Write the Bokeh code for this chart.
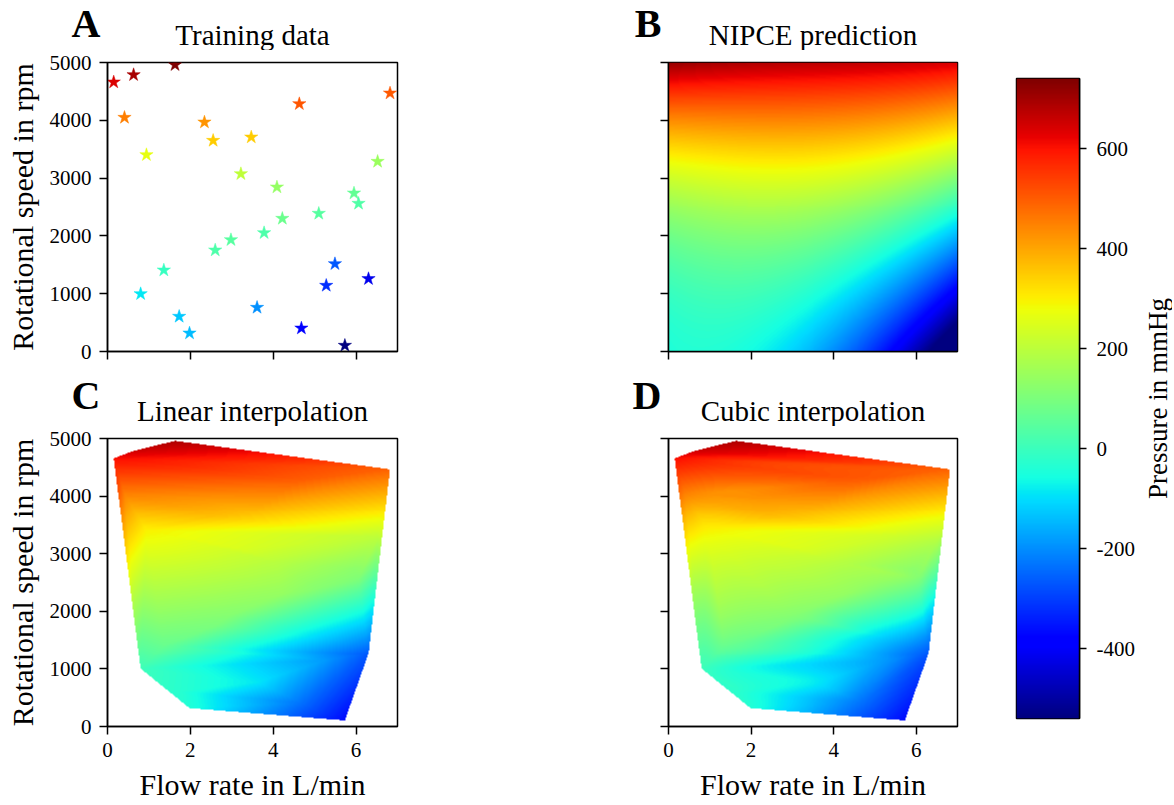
import itertools
import numpy as np
from bokeh.plotting import figure
from bokeh.layouts import row, column
from bokeh.core.properties import value
from bokeh.models import (LinearColorMapper, FixedTicker, Range1d,
                          ColumnDataSource, CustomJSTickFormatter)
from bokeh.embed import file_html
from bokeh.resources import INLINE

# ---------------- data ----------------
flow = [0.15, 0.63, 1.63, 0.41, 2.34, 4.63, 6.82, 2.55, 3.47, 0.94,
        3.22, 4.09, 6.52, 5.95, 6.06, 5.10, 4.22, 3.78, 2.98, 2.60,
        1.36, 0.80, 1.73, 1.98, 3.61, 5.49, 5.28, 4.68, 6.30, 5.73]
speed = [4660, 4787, 4960, 4048, 3967, 4285, 4469, 3650, 3708, 3403,
         3074, 2843, 3287, 2739, 2561, 2388, 2301, 2053, 1932, 1753,
         1407, 998, 606, 317, 761, 1517, 1142, 403, 1258, 104]
pressure = [607, 649, 690, 450, 425, 499, 492, 367, 367, 297,
            243, 193, 201, 127, 106, 114, 139, 102, 114, 98,
            69, 3, -29, -42, -88, -146, -188, -237, -270, -370]

x_ticks = [0, 2, 4, 6]
y_ticks = [0, 1000, 2000, 3000, 4000, 5000]
cbar_ticks = [-400, -200, 0, 200, 400, 600]
cbar_low, cbar_high = -540, 740
x_lim = (0, 7)
y_lim = (0, 5000)

titles = ["Training data", "NIPCE prediction", "Linear interpolation", "Cubic interpolation"]
letters = ["A", "B", "C", "D"]
x_label = "Flow rate in L/min"
y_label = "Rotational speed in rpm"
cbar_label = "Pressure in mmHg"

FONT = "Liberation Serif"


def jet_palette(n=256):
    t = np.linspace(0, 1, n)
    r = np.interp(t, [0, 0.35, 0.66, 0.89, 1], [0, 0, 1, 1, 0.5])
    g = np.interp(t, [0, 0.125, 0.375, 0.64, 0.91, 1], [0, 0, 1, 1, 0, 0])
    b = np.interp(t, [0, 0.11, 0.34, 0.65, 1], [0.5, 1, 1, 0, 0])
    return ["#%02x%02x%02x" % (int(round(a * 255)), int(round(c * 255)), int(round(d * 255)))
            for a, c, d in zip(r, g, b)]


JET = jet_palette()

# ---------------- Delaunay triangulation (raw coordinates) ----------------
P = np.column_stack([flow, speed]).astype(float)
F = np.array(pressure, dtype=float)
n = len(P)
combos = np.array(list(itertools.combinations(range(n), 3)))
A = P[combos[:, 0]]
Bv = P[combos[:, 1]] - A
Cv = P[combos[:, 2]] - A
d = 2.0 * (Bv[:, 0] * Cv[:, 1] - Bv[:, 1] * Cv[:, 0])
nb = np.hypot(Bv[:, 0], Bv[:, 1])
nc = np.hypot(Cv[:, 0], Cv[:, 1])
ok = np.abs(d) > 1e-9 * nb * nc
combos, A, Bv, Cv, d = combos[ok], A[ok], Bv[ok], Cv[ok], d[ok]
b2 = (Bv ** 2).sum(1)
c2 = (Cv ** 2).sum(1)
ux = (Cv[:, 1] * b2 - Bv[:, 1] * c2) / d
uy = (Bv[:, 0] * c2 - Cv[:, 0] * b2) / d
cx = A[:, 0] + ux
cy = A[:, 1] + uy
r2 = ux ** 2 + uy ** 2
dist2 = (P[None, :, 0] - cx[:, None]) ** 2 + (P[None, :, 1] - cy[:, None]) ** 2
power = dist2 - r2[:, None]
mask_self = np.zeros_like(power, dtype=bool)
rows = np.arange(len(combos))
for k in range(3):
    mask_self[rows, combos[:, k]] = True
power[mask_self] = np.inf
delaunay = combos[(power > -1e-10 * r2[:, None]).all(1)]

# ---------------- gradients at vertices (for cubic) ----------------
grad_sum = np.zeros((n, 2))
w_sum = np.zeros(n)
for (i, j, k) in delaunay:
    M = np.array([P[j] - P[i], P[k] - P[i]])
    g = np.linalg.solve(M, np.array([F[j] - F[i], F[k] - F[i]]))
    area = 0.5 * abs(np.linalg.det(M))
    for v in (i, j, k):
        grad_sum[v] += area * g
        w_sum[v] += area
G = grad_sum / w_sum[:, None]

# ---------------- rasterise ----------------
NX, NY = 290, 290
gx = (np.arange(NX) + 0.5) * (x_lim[1] - x_lim[0]) / NX + x_lim[0]
gy = (np.arange(NY) + 0.5) * (y_lim[1] - y_lim[0]) / NY + y_lim[0]
GX, GY = np.meshgrid(gx, gy)
qx, qy = GX.ravel(), GY.ravel()
lin = np.full(qx.shape, np.nan)
cub = np.full(qx.shape, np.nan)
for (i, j, k) in delaunay:
    (x1, y1), (x2, y2), (x3, y3) = P[i], P[j], P[k]
    det = (y2 - y3) * (x1 - x3) + (x3 - x2) * (y1 - y3)
    l1 = ((y2 - y3) * (qx - x3) + (x3 - x2) * (qy - y3)) / det
    l2 = ((y3 - y1) * (qx - x3) + (x1 - x3) * (qy - y3)) / det
    l3 = 1 - l1 - l2
    ins = (l1 >= -1e-9) & (l2 >= -1e-9) & (l3 >= -1e-9) & np.isnan(lin)
    if not ins.any():
        continue
    a1, a2, a3 = l1[ins], l2[ins], l3[ins]
    f1, f2, f3 = F[i], F[j], F[k]
    lin[ins] = a1 * f1 + a2 * f2 + a3 * f3
    g1, g2, g3 = G[i], G[j], G[k]
    b210 = f1 + g1 @ (P[j] - P[i]) / 3
    b201 = f1 + g1 @ (P[k] - P[i]) / 3
    b120 = f2 + g2 @ (P[i] - P[j]) / 3
    b021 = f2 + g2 @ (P[k] - P[j]) / 3
    b102 = f3 + g3 @ (P[i] - P[k]) / 3
    b012 = f3 + g3 @ (P[j] - P[k]) / 3
    E = (b210 + b201 + b120 + b021 + b102 + b012) / 6
    V = (f1 + f2 + f3) / 3
    b111 = E + (E - V) / 2
    cub[ins] = (f1 * a1 ** 3 + f2 * a2 ** 3 + f3 * a3 ** 3
                + 3 * b210 * a1 ** 2 * a2 + 3 * b120 * a1 * a2 ** 2
                + 3 * b201 * a1 ** 2 * a3 + 3 * b102 * a1 * a3 ** 2
                + 3 * b021 * a2 ** 2 * a3 + 3 * b012 * a2 * a3 ** 2
                + 6 * b111 * a1 * a2 * a3)
lin_img = lin.reshape(NY, NX)
cub_img = cub.reshape(NY, NX)


# ---------------- NIPCE surrogate: least-squares polynomial (total degree 3) ----------------
def basis(x, y):
    u = np.asarray(x) / x_lim[1] * 2 - 1
    w = np.asarray(y) / y_lim[1] * 2 - 1
    return np.column_stack([np.ones_like(u), u, w, u * u, u * w, w * w,
                            u ** 3, u * u * w, u * w * w, w ** 3])


coef, *_ = np.linalg.lstsq(basis(P[:, 0], P[:, 1]), F, rcond=None)
nipce_img = (basis(qx, qy) @ coef).reshape(NY, NX)

# ---------------- figures ----------------
mapper = LinearColorMapper(palette=JET, low=cbar_low, high=cbar_high, nan_color=(0, 0, 0, 0.0))
mapper_pts = LinearColorMapper(palette=JET, low=min(pressure), high=max(pressure))
empty_fmt = CustomJSTickFormatter(code="return ''")

TICK_FS = "21px"
LABEL_FS = "30px"
TITLE_FS = "29px"
LETTER_FS = "40px"


def header(w, h, left, right, idx, letter_y, title_y):
    """Panel letter (as a horizontal tick label left of the frame) and panel title."""
    fw = w - left - right
    p = figure(width=w, height=h, x_range=Range1d(0, fw), y_range=Range1d(0, h),
               min_border_left=left, min_border_right=right, min_border_top=0, min_border_bottom=0,
               x_axis_location=None, y_axis_location="left",
               output_backend="svg", toolbar_location=None)
    p.grid.visible = False
    p.outline_line_color = None
    p.background_fill_color = "white"
    p.border_fill_color = "white"
    ax = p.yaxis[0]
    ax.ticker = FixedTicker(ticks=[letter_y])
    ax.formatter = CustomJSTickFormatter(code="return '%s'" % letters[idx])
    ax.axis_line_color = None
    ax.major_tick_line_color = None
    ax.minor_tick_line_color = None
    ax.major_tick_out = 0
    ax.major_tick_in = 0
    ax.major_label_standoff = 7
    ax.major_label_text_font = FONT
    ax.major_label_text_font_size = LETTER_FS
    ax.major_label_text_font_style = "bold"
    ax.major_label_text_color = "black"
    p.text(x=[fw / 2], y=[title_y], text=[titles[idx]], text_font=value(FONT),
           text_font_size=TITLE_FS, text_color="black",
           text_align="center", text_baseline="alphabetic")
    return p


def panel(w, h, left, right, top, bottom, xlab, ylab):
    p = figure(width=w, height=h, x_range=Range1d(*x_lim), y_range=Range1d(*y_lim),
               min_border_left=left, min_border_right=right,
               min_border_top=top, min_border_bottom=bottom,
               output_backend="svg", toolbar_location=None)
    p.grid.visible = False
    p.outline_line_color = "black"
    p.outline_line_width = 1.5
    p.outline_line_alpha = 1.0
    p.background_fill_color = "white"
    p.border_fill_color = "white"
    for ax in (p.xaxis[0], p.yaxis[0]):
        ax.axis_line_color = "black"
        ax.axis_line_width = 1.5
        ax.major_tick_line_color = "black"
        ax.major_tick_line_width = 1.5
        ax.major_tick_out = 8
        ax.major_tick_in = 0
        ax.minor_tick_line_color = None
        ax.major_label_text_font = FONT
        ax.major_label_text_font_size = TICK_FS
        ax.major_label_text_color = "black"
        ax.major_label_standoff = 8
        ax.axis_label_text_font = FONT
        ax.axis_label_text_font_size = LABEL_FS
        ax.axis_label_text_font_style = "normal"
        ax.axis_label_text_color = "black"
        ax.axis_label_standoff = 8
    p.xaxis.ticker = FixedTicker(ticks=x_ticks)
    p.yaxis.ticker = FixedTicker(ticks=y_ticks)
    if xlab:
        p.xaxis.axis_label = x_label
    else:
        p.xaxis.formatter = empty_fmt
    if ylab:
        p.yaxis.axis_label = y_label
    else:
        p.yaxis.formatter = empty_fmt
    return p


W1, W2 = 407, 560
L1, L2 = 107, 261
R = 10
TOP = 12

hA = header(W1, 50, L1, R, 0, 27.5, 16)
pA = panel(W1, 321, L1, R, TOP, 20, False, True)
src = ColumnDataSource(dict(x=flow, y=speed, p=pressure))
pA.scatter("x", "y", source=src, marker="star", size=14,
           fill_color={"field": "p", "transform": mapper_pts},
           line_color={"field": "p", "transform": mapper_pts}, line_width=0.5)

hB = header(W2, 50, L2, R, 1, 27.5, 16)
pB = panel(W2, 321, L2, R, TOP, 20, False, False)
pB.image(image=[nipce_img], x=x_lim[0], y=y_lim[0], dw=x_lim[1] - x_lim[0],
         dh=y_lim[1] - y_lim[0], color_mapper=mapper)

hC = header(W1, 55, L1, R, 2, 31, 16)
pC = panel(W1, 377, L1, R, TOP, 75, True, True)
pC.image(image=[lin_img], x=x_lim[0], y=y_lim[0], dw=x_lim[1] - x_lim[0],
         dh=y_lim[1] - y_lim[0], color_mapper=mapper)

hD = header(W2, 55, L2, R, 3, 31, 16)
pD = panel(W2, 377, L2, R, TOP, 75, True, False)
pD.image(image=[cub_img], x=x_lim[0], y=y_lim[0], dw=x_lim[1] - x_lim[0],
         dh=y_lim[1] - y_lim[0], color_mapper=mapper)

# colour bar as its own small figure
pc = figure(width=172, height=803, x_range=Range1d(0, 1), y_range=Range1d(cbar_low, cbar_high),
            y_axis_location="right", min_border_left=49, min_border_right=60,
            min_border_top=78, min_border_bottom=85,
            output_backend="svg", toolbar_location=None)
grad = np.linspace(cbar_low, cbar_high, 512).reshape(-1, 1)
pc.image(image=[grad], x=0, y=cbar_low, dw=1, dh=cbar_high - cbar_low, color_mapper=mapper)
pc.grid.visible = False
pc.xaxis.visible = False
pc.outline_line_color = "black"
pc.outline_line_width = 1.5
pc.outline_line_alpha = 1.0
pc.border_fill_color = "white"
ay = pc.yaxis[0]
ay.ticker = FixedTicker(ticks=cbar_ticks)
ay.major_label_overrides = {t: str(t) for t in cbar_ticks}
ay.axis_line_color = "black"
ay.axis_line_width = 1.5
ay.major_tick_line_width = 1.5
ay.major_tick_out = 7
ay.major_tick_in = 0
ay.minor_tick_line_color = None
ay.major_label_text_font = FONT
ay.major_label_text_font_size = TICK_FS
ay.major_label_text_color = "black"
ay.major_label_standoff = 10

# colour bar label: the axis label of a thin companion figure (reads bottom-to-top)
plab = figure(width=33, height=803, x_range=Range1d(0, 1), y_range=Range1d(cbar_low, cbar_high),
              min_border_left=32, min_border_right=0, min_border_top=78, min_border_bottom=85,
              x_axis_location=None, y_axis_location="left",
              output_backend="svg", toolbar_location=None)
plab.grid.visible = False
plab.outline_line_color = None
plab.border_fill_color = "white"
lax = plab.yaxis[0]
lax.ticker = FixedTicker(ticks=[])
lax.axis_line_color = None
lax.major_tick_line_color = None
lax.minor_tick_line_color = None
lax.major_tick_out = 0
lax.major_label_standoff = 0
lax.axis_label = cbar_label
lax.axis_label_standoff = 0
lax.axis_label_text_font = FONT
lax.axis_label_text_font_size = "27px"
lax.axis_label_text_font_style = "normal"
lax.axis_label_text_color = "black"

layout = row(column(hA, pA, hC, pC), column(hB, pB, hD, pD), pc, plab)
open("out.html", "w").write(file_html(layout, INLINE))
